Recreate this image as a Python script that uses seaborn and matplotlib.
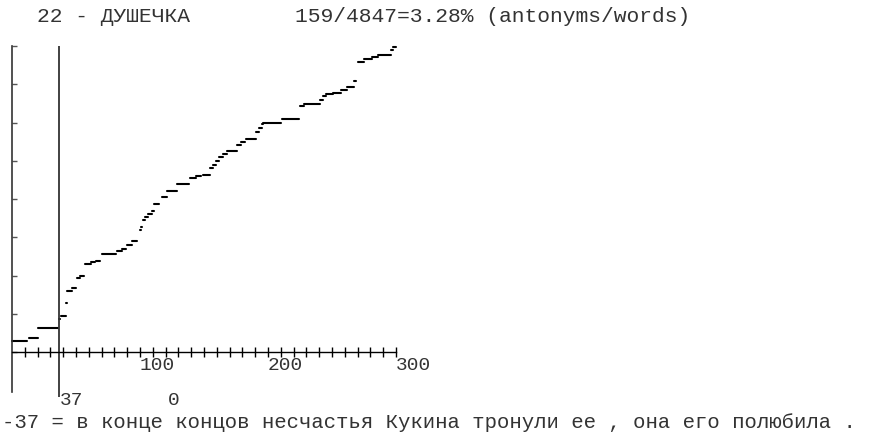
import numpy as np
import pandas as pd
import matplotlib
matplotlib.use("Agg")
import matplotlib.pyplot as plt
import seaborn as sns

# ---------------- data ----------------
title_left = "22 - ДУШЕЧКА"
title_right = "159/4847=3.28% (antonyms/words)"
bottom_text = "-37 = в конце концов несчастья Кукина тронули ее , она его полюбила ."
marker_x = 37
marker_label = "37"
second_label = "0"
second_label_x = 122
x_tick_values = [100, 200, 300]
x_tick_labels = ["100", "200", "300"]

# step segments of the cumulative curve: start x, end x, level
seg_x0 = [0, 13, 20, 37, 38, 42, 43, 47, 51, 53, 57, 62, 66, 70, 82, 86, 90, 94,
          99, 100, 101, 102, 104, 106, 109, 111, 117, 121, 129, 139, 144, 149,
          155, 157, 159, 162, 165, 168, 176, 179, 183, 191, 193, 195, 196, 211,
          225, 228, 241, 243, 245, 251, 257, 262, 267, 270, 275, 281, 286, 296, 298]
seg_x1 = [12, 20, 36, 37.8, 42, 42.6, 47, 50, 53, 56, 62, 65, 69, 81, 86, 89, 94, 98,
          99.6, 100.6, 101.6, 104, 106, 109, 111, 115, 121, 129, 138, 144, 148, 155,
          157, 159, 162, 165, 168, 176, 179, 182, 191, 193, 195, 196, 210, 224,
          228, 241, 243, 245, 251, 257, 262, 267, 269, 275, 281, 286, 296, 298, 300]
seg_y = [5.7, 7.3, 12.5, 17.0, 18.7, 25.5, 32.0, 33.5, 38.5, 40.0, 46.0, 47.0, 47.8,
         51.0, 53.0, 53.6, 56.0, 58.0, 62.0, 64.0, 65.6, 69.0, 70.5, 72.0, 73.5, 77.6,
         81.0, 84.0, 88.0, 91.0, 92.0, 92.7, 96.0, 98.0, 100.0, 102.0, 103.5, 105.0,
         108.0, 110.0, 111.5, 115.0, 117.0, 119.0, 120.0, 122.0, 128.5, 129.7, 132.0,
         134.0, 135.0, 135.6, 137.0, 138.8, 141.7, 151.5, 153.0, 154.5, 155.2, 158.0,
         159.3]

rows = []
for i, (a, b, v) in enumerate(zip(seg_x0, seg_x1, seg_y)):
    rows.append({"seg": i, "x": a, "y": v})
    rows.append({"seg": i, "x": b, "y": v})
df = pd.DataFrame(rows)

# ---------------- style ----------------
sns.set_style("white")
plt.rcParams["font.family"] = ["Liberation Mono", "DejaVu Sans Mono"]
FS = 15.3
FS_BOTTOM = 14.9
FS_TICK = 14
TXT = "#333333"

W, H = 880, 434
fig = plt.figure(figsize=(W / 100, H / 100), dpi=100)

# axes placement in pixels: x 0..300 -> px 12..396 ; y -24..160 -> py 398..46
x_left, x_right = 12, 396
y_top_px, y0_px = 46, 352
ppu_y = (y0_px - y_top_px) / 160.0
ymin = -24
y_bottom_px = y0_px + (-ymin) * ppu_y
ax = fig.add_axes([x_left / W, 1 - y_bottom_px / H,
                   (x_right - x_left) / W, (y_bottom_px - y_top_px) / H])
ax.set_xlim(0, 300)
ax.set_ylim(ymin, 160)
ax.set_facecolor("white")

sns.lineplot(data=df, x="x", y="y", units="seg", estimator=None, sort=False,
             color="black", lw=1.5, legend=False, ax=ax)
for ln in ax.lines:
    ln.set_clip_on(False)

# vertical marker line
ax.plot([marker_x, marker_x], [ymin + 0.5, 160], color="#333333", lw=1.3,
        clip_on=False, solid_capstyle="butt")

# spines
for s in ["top", "right"]:
    ax.spines[s].set_visible(False)
ax.spines["left"].set_position(("data", 0))
ax.spines["left"].set_bounds(-21, 160)
ax.spines["left"].set_color("#333333")
ax.spines["left"].set_linewidth(1.2)
ax.spines["bottom"].set_position(("data", 0))
ax.spines["bottom"].set_bounds(0, 300)
ax.spines["bottom"].set_color("black")
ax.spines["bottom"].set_linewidth(1.0)

# x ticks: every 10, labels at 100/200/300
xt = list(range(10, 301, 10))
ax.set_xticks(xt)
ax.set_xticklabels([x_tick_labels[x_tick_values.index(v)] if v in x_tick_values else ""
                    for v in xt])
ax.tick_params(axis="x", bottom=True, direction="inout", length=7, width=1.0,
               color="black", pad=0, labelsize=FS_TICK, labelcolor=TXT)
for lab in ax.get_xticklabels():
    lab.set_ha("left")

# y ticks every 20 pointing inward, no labels
ax.set_yticks(list(range(0, 161, 20)))
ax.set_yticklabels([])
ax.tick_params(axis="y", left=True, direction="in", length=3.5, width=1.0,
               color="#555555")
ax.set_xlabel("")
ax.set_ylabel("")

# labels under the axis
ax.text(marker_x, -25.5, marker_label, ha="left", va="center", fontsize=FS_TICK,
        color=TXT, clip_on=False)
ax.text(second_label_x, -25.5, second_label, ha="left", va="center", fontsize=FS_TICK,
        color=TXT, clip_on=False)

# header and footer
fig.text(37 / W, 1 - 16 / H, title_left, ha="left", va="center", fontsize=FS,
         color=TXT)
fig.text(295 / W, 1 - 16 / H, title_right, ha="left", va="center", fontsize=FS,
         color=TXT)
fig.text(2 / W, 1 - 422 / H, bottom_text, ha="left", va="center", fontsize=FS_BOTTOM,
         color=TXT)

fig.savefig("out.png", dpi=100, facecolor="white")
